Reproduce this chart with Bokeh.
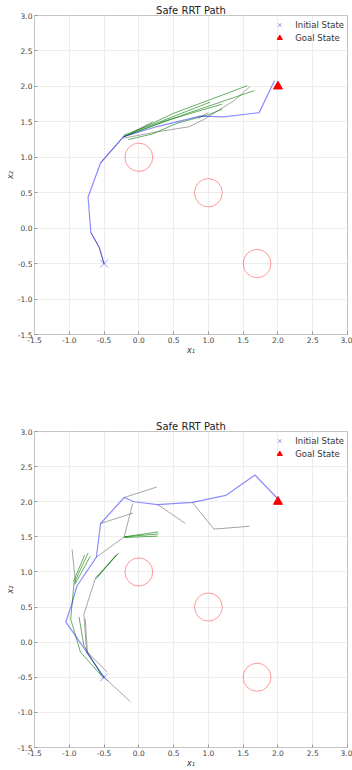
from bokeh.plotting import figure
from bokeh.models import Range1d, FixedTicker, Legend, LegendItem, PrintfTickFormatter
from bokeh.layouts import column
from bokeh.embed import file_html
from bokeh.resources import INLINE

# ---------------- data ----------------
axis_ticks = [-1.5, -1.0, -0.5, 0.0, 0.5, 1.0, 1.5, 2.0, 2.5, 3.0]
obstacle_x = [0.0, 1.0, 1.7]
obstacle_y = [1.0, 0.5, -0.5]
obstacle_d = [0.4, 0.4, 0.4]
initial_x = [-0.5]
initial_y = [-0.5]
goal_x = [2.0]
goal_y = [2.0]

# top panel: final path + explored tree branches
path1_x = [-0.5, -0.57, -0.69, -0.73, -0.55, -0.22, 0.25, 0.88, 1.22, 1.73, 1.95]
path1_y = [-0.5, -0.27, -0.06, 0.44, 0.92, 1.29, 1.43, 1.58, 1.57, 1.63, 2.08]
green1_xs = [[-0.22, 0.5, 1.56], [-0.22, 0.4, 1.2], [-0.22, 0.7, 1.66],
             [-0.15, 0.2, 0.55, 1.0, 1.2], [-0.22, 0.3, 1.03]]
green1_ys = [[1.29, 1.62, 2.01], [1.29, 1.52, 1.75], [1.29, 1.62, 1.94],
             [1.25, 1.33, 1.48, 1.6, 1.68], [1.31, 1.5, 1.78]]
gray1_xs = [[-0.5, -0.57, -0.69], [-0.55, -0.22],
            [-0.22, 0.27, 0.72, 0.93, 1.37, 1.6], [-0.1, 0.2], [0.85, 1.0]]
gray1_ys = [[-0.5, -0.27, -0.06], [0.92, 1.29],
            [1.27, 1.36, 1.43, 1.53, 1.80, 2.0], [1.35, 1.5], [1.55, 1.63]]

# bottom panel
path2_x = [-0.5, -1.05, -0.97, -0.89, -0.61, -0.55, -0.21, -0.07, 0.27, 0.77, 1.25, 1.67, 1.99]
path2_y = [-0.5, 0.29, 0.52, 0.80, 1.21, 1.69, 2.06, 2.00, 1.96, 1.99, 2.09, 2.38, 2.05]
green2_xs = [[-0.21, 0.28], [-0.21, 0.28], [-0.21, 0.27],
             [-0.93, -0.73], [-0.94, -0.78], [-0.92, -0.70],
             [-0.62, -0.30], [-0.60, -0.33],
             [-0.5, -0.84, -0.98, -0.93], [-0.55, -0.79, -0.86]]
green2_ys = [[1.50, 1.57], [1.50, 1.54], [1.49, 1.51],
             [0.84, 1.27], [0.86, 1.24], [0.82, 1.22],
             [0.90, 1.26], [0.92, 1.24],
             [-0.52, -0.14, 0.33, 0.85], [-0.45, -0.05, 0.36]]
gray2_xs = [[-0.21, 0.26], [-0.55, -0.08], [-0.61, -0.21, -0.09],
            [0.27, 0.67], [0.77, 1.08, 1.59], [-0.5, -0.12],
            [-0.91, -0.96], [-0.62, -0.29],
            [-0.5, -0.75, -0.79, -0.62], [-0.45, -0.74, -0.77]]
gray2_ys = [[2.06, 2.21], [1.69, 1.84], [1.21, 1.50, 1.97],
            [1.96, 1.69], [1.99, 1.61, 1.65], [-0.5, -0.85],
            [0.85, 1.32], [0.92, 1.27],
            [-0.5, -0.15, 0.40, 0.92], [-0.43, -0.14, 0.33]]

FONT = "DejaVu Sans"


def make_fig(height, top, bottom, px, py, gxs, gys, rxs, rys):
    p = figure(width=352, height=height, output_backend="svg", toolbar_location=None,
               x_range=Range1d(-1.5, 3.0), y_range=Range1d(-1.5, 3.0),
               min_border_left=34, min_border_right=5,
               min_border_top=top, min_border_bottom=bottom)
    p.title.text = "Safe RRT Path"
    p.title.align = "center"
    p.title.text_font = FONT
    p.title.text_font_size = "10px"
    p.title.text_font_style = "normal"
    p.title.text_color = "#222222"
    p.title.standoff = 0
    p.outline_line_color = "#c4c4c4"
    for ax in (p.xaxis[0], p.yaxis[0]):
        ax.ticker = FixedTicker(ticks=axis_ticks)
        ax.formatter = PrintfTickFormatter(format="%.1f")
        ax.major_label_text_font = FONT
        ax.major_label_text_font_size = "7.5px"
        ax.major_label_text_color = "#444444"
        ax.major_label_standoff = 2
        ax.major_tick_in = 3
        ax.major_tick_out = 0
        ax.major_tick_line_color = "#999999"
        ax.minor_tick_line_color = None
        ax.axis_line_color = "#c4c4c4"
        ax.axis_label_text_font = FONT
        ax.axis_label_text_font_size = "8px"
        ax.axis_label_text_font_style = "italic"
        ax.axis_label_text_color = "#333333"
        ax.axis_label_standoff = 0
    p.xaxis.axis_label = "x₁"
    p.yaxis.axis_label = "x₂"
    p.xgrid.ticker = FixedTicker(ticks=axis_ticks)
    p.ygrid.ticker = FixedTicker(ticks=axis_ticks)
    p.grid.grid_line_color = "#ededed"

    p.multi_line(xs=rxs, ys=rys, line_color="#808080", line_alpha=0.7, line_width=1)
    p.multi_line(xs=gxs, ys=gys, line_color="#007a00", line_alpha=0.6, line_width=1)
    p.line(px, py, line_color="#0000ff", line_alpha=0.45, line_width=1.2)
    p.ellipse(x=obstacle_x, y=obstacle_y, width=obstacle_d, height=obstacle_d,
              fill_color=None, line_color="#ff0000", line_alpha=0.4, line_width=1)
    r_init = p.scatter(initial_x, initial_y, marker="x", size=11,
                       line_color="#0000ff", line_alpha=0.4, line_width=1)
    r_goal = p.scatter(goal_x, goal_y, marker="triangle", size=9,
                       fill_color="#ff0000", line_color="#ff0000")
    legend = Legend(items=[LegendItem(label="Initial State", renderers=[r_init]),
                           LegendItem(label="Goal State", renderers=[r_goal])],
                    location="top_right", border_line_alpha=0,
                    background_fill_alpha=0, margin=0, padding=3, spacing=0,
                    label_text_font=FONT, label_text_font_size="8.5px",
                    label_text_color="#333333",
                    glyph_height=13, label_height=13, glyph_width=16, label_standoff=8)
    p.add_layout(legend)
    return p


p1 = make_fig(418, 15, 84, path1_x, path1_y, green1_xs, green1_ys, gray1_xs, gray1_ys)
p2 = make_fig(352, 13, 21, path2_x, path2_y, green2_xs, green2_ys, gray2_xs, gray2_ys)
layout = column(p1, p2, spacing=0)

open("out.html", "w").write(file_html(layout, INLINE))
